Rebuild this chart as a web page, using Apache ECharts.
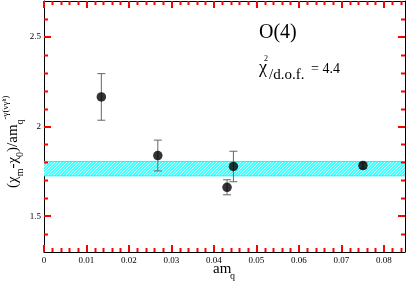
<!DOCTYPE html>
<html><head><meta charset="utf-8">
<script src="https://cdn.jsdelivr.net/npm/echarts@6/dist/echarts.min.js"></script>
<style>html,body{margin:0;padding:0;background:#fff}#c{width:407px;height:284px}</style>
</head><body><div id="c"></div>
<script>
// Data
const amq = [0.0135, 0.0268, 0.0431, 0.0446, 0.0751];
const ratio = [2.165, 1.838, 1.661, 1.777, 1.782];
const err = [0.130, 0.086, 0.042, 0.085, 0.015];
const band = [1.725, 1.805];
const xMajorTicks = [0, 0.01, 0.02, 0.03, 0.04, 0.05, 0.06, 0.07, 0.08];
const xMinorTicks = [0.002,0.004,0.006,0.008,0.012,0.014,0.016,0.018,0.022,0.024,0.026,0.028,
  0.032,0.034,0.036,0.038,0.042,0.044,0.046,0.048,0.052,0.054,0.056,0.058,
  0.062,0.064,0.066,0.068,0.072,0.074,0.076,0.078,0.082,0.084];
const yMajorTicks = [1.5, 2, 2.5];
const yMinorTicks = [1.4,1.6,1.7,1.8,1.9,2.1,2.2,2.3,2.4,2.6];

// cyan hatch pattern
const pc = document.createElement('canvas');
pc.width = 3; pc.height = 3;
const pctx = pc.getContext('2d');
pctx.fillStyle = '#40ffff'; pctx.fillRect(0,0,3,3);
pctx.fillStyle = '#d0ffff';
pctx.fillRect(0, 0, 1, 1); pctx.fillRect(2, 1, 1, 1); pctx.fillRect(1, 2, 1, 1);

const FONT = '"Liberation Serif","Times New Roman",serif';
const TICK = 'red';
const chart = echarts.init(document.getElementById('c'));
function xAx(pos, labels) {
  return {
    type: 'value', min: 0, max: 0.085, position: pos,
    axisLine: {show: true, onZero: false, lineStyle: {color: '#000', width: 1}},
    axisTick: {show: true, inside: true, length: 7, customValues: xMajorTicks, lineStyle: {color: TICK, width: 2}},
    axisLabel: labels ? {show: true, customValues: xMajorTicks, fontFamily: FONT, fontSize: 9, color: '#000', margin: 4} : {show: false},
    splitLine: {show: false}
  };
}
function yAx(pos, labels) {
  return {
    type: 'value', min: 1.3, max: 2.7, position: pos,
    axisLine: {show: true, onZero: false, lineStyle: {color: '#000', width: 1}},
    axisTick: {show: true, inside: true, length: 7, customValues: yMajorTicks, lineStyle: {color: TICK, width: 2}},
    axisLabel: labels ? {show: true, customValues: yMajorTicks, fontFamily: FONT, fontSize: 9, color: '#000', margin: 3} : {show: false},
    splitLine: {show: false}
  };
}
function tickSeries(vals, dir, len) {
  return {
    type: 'custom',
    data: vals.map(v => dir === 'x' ? [v, 2] : [0.04, v]),
    renderItem: function (params, api) {
      const cs = params.coordSys;
      const p = api.coord([api.value(0), api.value(1)]);
      const st = {stroke: TICK, lineWidth: 2};
      if (dir === 'x') {
        const px = Math.round(p[0]) + 0.5;
        const yb = cs.y + cs.height, yt = cs.y;
        return {type: 'group', children: [
          {type: 'line', shape: {x1: px, y1: yb, x2: px, y2: yb - len}, style: st},
          {type: 'line', shape: {x1: px, y1: yt, x2: px, y2: yt + len}, style: st}
        ]};
      } else {
        const py = Math.round(p[1]) + 0.5;
        const xl = cs.x, xr = cs.x + cs.width;
        return {type: 'group', children: [
          {type: 'line', shape: {x1: xl, y1: py, x2: xl + len, y2: py}, style: st},
          {type: 'line', shape: {x1: xr, y1: py, x2: xr - len, y2: py}, style: st}
        ]};
      }
    }
  };
}
const pts = amq.map((x, i) => [x, ratio[i], err[i]]);
chart.setOption({
  animation: false,
  grid: {left: 44, right: 2, top: 1, bottom: 32},
  xAxis: [xAx('bottom', true), xAx('top', false)],
  yAxis: [yAx('left', true), yAx('right', false)],
  series: [
    {
      type: 'custom', data: [band], z: 1, silent: true,
      renderItem: function (params, api) {
        const cs = params.coordSys;
        const y0 = api.coord([0, api.value(0)])[1];
        const y1 = api.coord([0, api.value(1)])[1];
        return {type: 'group', children: [
          {type: 'rect', shape: {x: cs.x, y: y1, width: cs.width, height: y0 - y1},
           style: {fill: {image: pc, repeat: 'repeat'}}},
          {type: 'line', shape: {x1: cs.x, y1: y1, x2: cs.x + cs.width, y2: y1}, style: {stroke: '#00ffff', lineWidth: 1}},
          {type: 'line', shape: {x1: cs.x, y1: y0, x2: cs.x + cs.width, y2: y0}, style: {stroke: '#00ffff', lineWidth: 1}}
        ]};
      }
    },
    {
      type: 'custom', data: pts, z: 3,
      renderItem: function (params, api) {
        const x = api.value(0), y = api.value(1), e = api.value(2);
        const top = api.coord([x, y + e]);
        const bot = api.coord([x, y - e]);
        const w = 4;
        const st = {stroke: '#666', lineWidth: 1};
        return {type: 'group', children: [
          {type: 'line', shape: {x1: top[0], y1: top[1], x2: bot[0], y2: bot[1]}, style: st},
          {type: 'line', shape: {x1: top[0]-w, y1: top[1], x2: top[0]+w, y2: top[1]}, style: st},
          {type: 'line', shape: {x1: bot[0]-w, y1: bot[1], x2: bot[0]+w, y2: bot[1]}, style: st}
        ]};
      }
    },
    {
      type: 'scatter', data: pts,
      symbol: 'circle', symbolSize: 9.5, itemStyle: {color: '#000'}, z: 5
    },
    tickSeries(xMinorTicks, 'x', 4),
    tickSeries(yMinorTicks, 'y', 4)
  ],
  graphic: [
    {type: 'text', left: 259, top: 23, style: {text: 'O(4)', font: '20px ' + FONT, fill: '#000'}},
    {type: 'text', left: 259, top: 59, style: {text: 'χ', font: '18px ' + FONT, fill: '#000'}},
    {type: 'text', left: 264, top: 55, style: {text: '2', font: '8px ' + FONT, fill: '#000'}},
    {type: 'text', left: 269, top: 68, style: {text: '/d.o.f.', font: '15px ' + FONT, fill: '#000'}},
    {type: 'text', left: 311, top: 62, style: {text: '= 4.4', font: '14px ' + FONT, fill: '#000'}},
    {type: 'text', left: 213, top: 262, style: {text: 'am', font: '15px ' + FONT, fill: '#000'}},
    {type: 'text', left: 230, top: 271, style: {text: 'q', font: '10px ' + FONT, fill: '#000'}},
    {type: 'text', x: 1, y: 188, rotation: Math.PI / 2, style: {
      text: '{a|(χ}{b|m}{a|-χ}{b|0}{a|)/am}{b|q}{c|-γ(νγ}{d|h}{c|)}',
      rich: {
        a: {font: '15px ' + FONT, fill: '#000', lineHeight: 24, verticalAlign: 'middle'},
        b: {font: '10px ' + FONT, fill: '#000', lineHeight: 24, verticalAlign: 'bottom'},
        c: {font: '9px ' + FONT, fill: '#000', lineHeight: 24, verticalAlign: 'top'},
        d: {font: '6px ' + FONT, fill: '#000', lineHeight: 20, verticalAlign: 'top'}
      }
    }}
  ]
});
</script></body></html>
